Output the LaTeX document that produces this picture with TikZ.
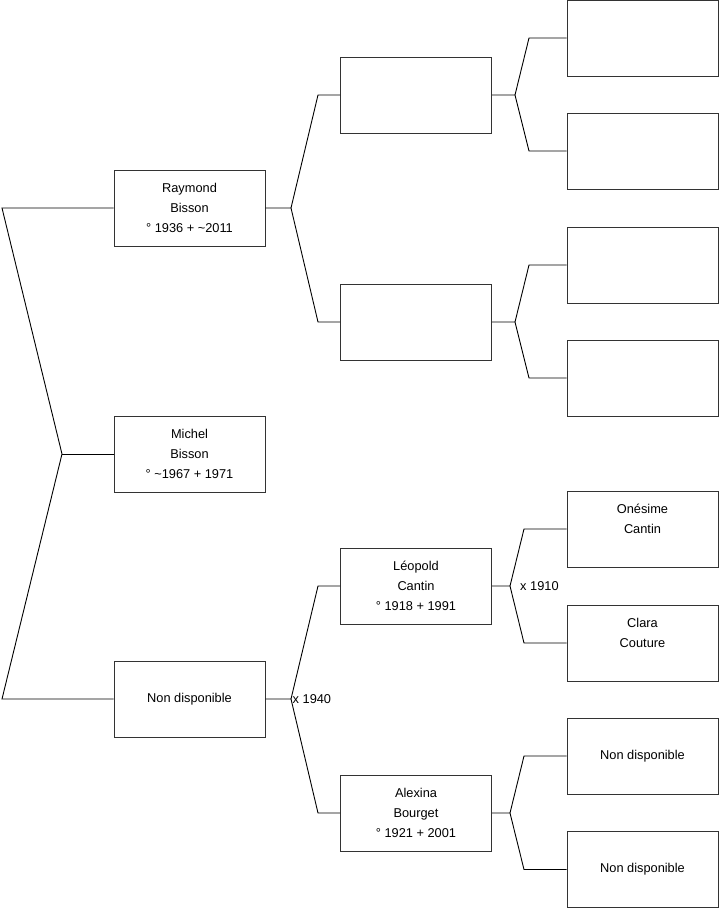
\documentclass[tikz,border=0pt]{standalone}
\usepackage{fontspec}
\setmainfont{Liberation Sans}
\begin{document}
\begin{tikzpicture}[x=1pt,y=-1pt,
  person/.style={draw=black!80,line width=1pt,minimum width=151pt,minimum height=76pt,inner sep=0pt,align=center,font=\fontsize{12.8}{20}\selectfont},
  link/.style={draw=black,line width=0.9pt},
  lbl/.style={anchor=west,inner sep=0pt,font=\fontsize{12.8}{14}\selectfont}]
\useasboundingbox (0,0) rectangle (719,908);
% column 1
\node[person] (ray) at (189.5,208) {Raymond\\Bisson\\° 1936 + \textasciitilde2011};
\node[person] (mic) at (189.5,454) {Michel\\Bisson\\° \textasciitilde1967 + 1971};
\node[person] (nd) at (189.5,699) {Non disponible};
% column 2
\node[person] (a) at (416,95) {};
\node[person] (b) at (416,322) {};
\node[person] (leo) at (416,586) {Léopold\\Cantin\\° 1918 + 1991};
\node[person] (ale) at (416,813) {Alexina\\Bourget\\° 1921 + 2001};
% column 3
\node[person] (a1) at (642.5,38) {};
\node[person] (a2) at (642.5,151) {};
\node[person] (b1) at (642.5,265) {};
\node[person] (b2) at (642.5,378) {};
\node[person] (ones) at (642.5,529) {Onésime\\Cantin\\\mbox{}};
\node[person] (clara) at (642.5,643) {Clara\\Couture\\\mbox{}};
\node[person] (n1) at (642.5,756) {Non disponible};
\node[person] (n2) at (642.5,869.5) {Non disponible};
% root connectors
\coordinate (r1) at (2,208);
\coordinate (rm) at (62,454);
\coordinate (r3) at (2,699);
\draw[link] (ray.west) -- (r1) -- (rm) -- (r3) -- (nd.west);
\draw[link] (rm) -- (mic.west);
% Raymond
\coordinate (j1) at (291,208);
\coordinate (j1a) at (318,95);
\coordinate (j1b) at (318,322);
\draw[link] (ray.east) -- (j1) -- (j1a) -- (a.west);
\draw[link] (j1) -- (j1b) -- (b.west);
% Non disponible
\coordinate (j2) at (291,699);
\coordinate (j2a) at (318,586);
\coordinate (j2b) at (318,813);
\draw[link] (nd.east) -- (j2) -- (j2a) -- (leo.west);
\draw[link] (j2) -- (j2b) -- (ale.west);
\node[lbl] (m1940) at (292.5,699) {x 1940};
% box A
\coordinate (j3) at (515,95);
\coordinate (j3a) at (529,38);
\coordinate (j3b) at (529,151);
\draw[link] (a.east) -- (j3) -- (j3a) -- (a1.west);
\draw[link] (j3) -- (j3b) -- (a2.west);
% box B
\coordinate (j4) at (515,322);
\coordinate (j4a) at (529,265);
\coordinate (j4b) at (529,378);
\draw[link] (b.east) -- (j4) -- (j4a) -- (b1.west);
\draw[link] (j4) -- (j4b) -- (b2.west);
% Leopold
\coordinate (j5) at (510,586);
\coordinate (j5a) at (524,529);
\coordinate (j5b) at (524,643);
\draw[link] (leo.east) -- (j5) -- (j5a) -- (ones.west);
\draw[link] (j5) -- (j5b) -- (clara.west);
\node[lbl] (m1910) at (520,586) {x 1910};
% Alexina
\coordinate (j6) at (510,813);
\coordinate (j6a) at (524,756);
\coordinate (j6b) at (524,869.5);
\draw[link] (ale.east) -- (j6) -- (j6a) -- (n1.west);
\draw[link] (j6) -- (j6b) -- (n2.west);
\end{tikzpicture}
\end{document}
